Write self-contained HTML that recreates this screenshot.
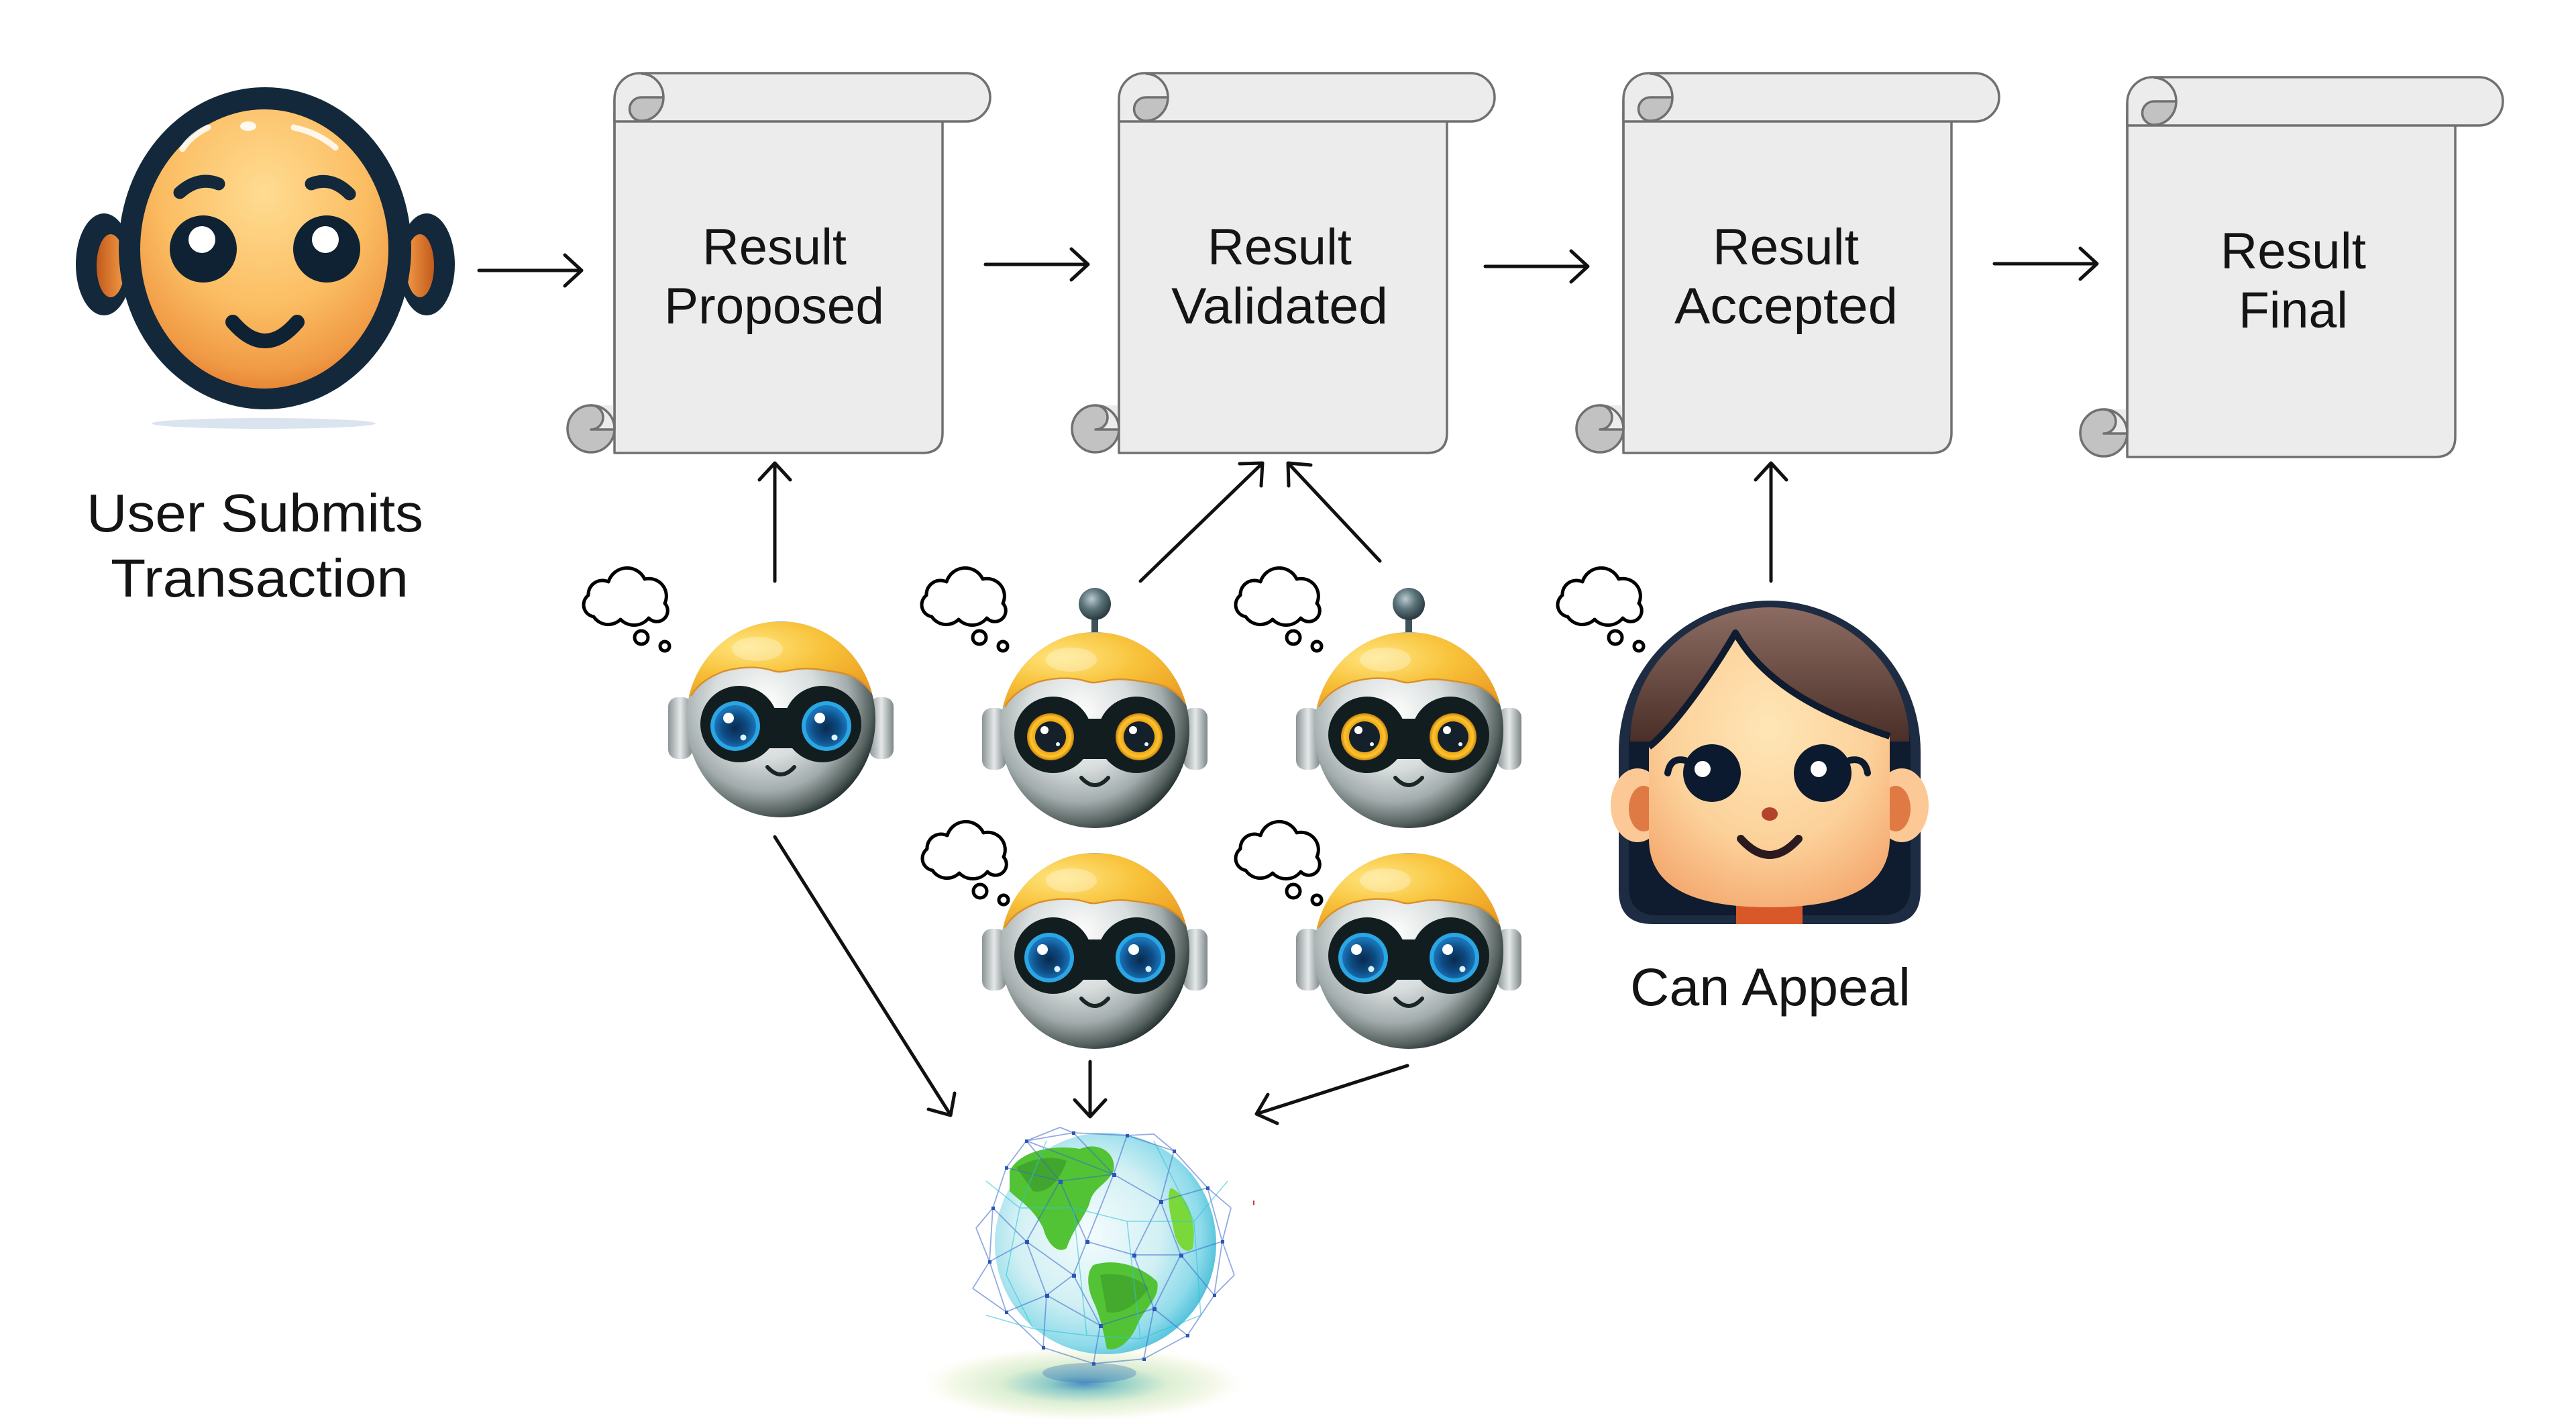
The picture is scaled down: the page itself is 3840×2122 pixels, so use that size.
<!DOCTYPE html>
<html>
<head>
<meta charset="utf-8">
<style>
html,body{margin:0;padding:0;background:#fff;}
svg{display:block;}
text{font-family:"Liberation Sans",Arial,sans-serif;fill:#141414;}
</style>
</head>
<body>
<svg width="3840" height="2122" viewBox="0 0 3840 2122" xmlns="http://www.w3.org/2000/svg">
<defs>
  <radialGradient id="faceG" cx="0.5" cy="0.3" r="0.75">
    <stop offset="0" stop-color="#ffdc92"/>
    <stop offset="0.55" stop-color="#fbbd62"/>
    <stop offset="0.85" stop-color="#f09a45"/>
    <stop offset="1" stop-color="#e0782c"/>
  </radialGradient>
  <linearGradient id="earInG" x1="0" y1="0" x2="1" y2="0">
    <stop offset="0" stop-color="#c25a1c"/>
    <stop offset="1" stop-color="#f29a45"/>
  </linearGradient>
  <radialGradient id="silverG" cx="0.42" cy="0.42" r="0.62">
    <stop offset="0" stop-color="#ffffff"/>
    <stop offset="0.45" stop-color="#d8dddd"/>
    <stop offset="0.72" stop-color="#a3acad"/>
    <stop offset="0.9" stop-color="#56625f"/>
    <stop offset="1" stop-color="#1f2b2c"/>
  </radialGradient>
  <linearGradient id="earG" x1="0" y1="0" x2="1" y2="0">
    <stop offset="0" stop-color="#8c9496"/>
    <stop offset="0.5" stop-color="#e4e8e8"/>
    <stop offset="1" stop-color="#7d8688"/>
  </linearGradient>
  <radialGradient id="yellowG" cx="0.35" cy="0.3" r="0.8">
    <stop offset="0" stop-color="#ffe680"/>
    <stop offset="0.45" stop-color="#f8c23a"/>
    <stop offset="1" stop-color="#e8941c"/>
  </radialGradient>
  <radialGradient id="blueIris" cx="0.5" cy="0.55" r="0.5">
    <stop offset="0" stop-color="#0a2a4e"/>
    <stop offset="0.6" stop-color="#0e4c84"/>
    <stop offset="1" stop-color="#1a74b8"/>
  </radialGradient>
  <radialGradient id="orangeRing" cx="0.5" cy="0.5" r="0.5">
    <stop offset="0.6" stop-color="#e49a10"/>
    <stop offset="0.85" stop-color="#ffc52e"/>
    <stop offset="1" stop-color="#c98210"/>
  </radialGradient>
  <radialGradient id="antG" cx="0.4" cy="0.35" r="0.65">
    <stop offset="0" stop-color="#b9cbd0"/>
    <stop offset="0.5" stop-color="#5b7279"/>
    <stop offset="1" stop-color="#2a3b41"/>
  </radialGradient>
  <linearGradient id="hairG" x1="0" y1="0" x2="0" y2="1">
    <stop offset="0" stop-color="#8c6c62"/>
    <stop offset="1" stop-color="#4a2f28"/>
  </linearGradient>
  <radialGradient id="skinG" cx="0.5" cy="0.35" r="0.7">
    <stop offset="0" stop-color="#ffe6b6"/>
    <stop offset="0.6" stop-color="#fcd19a"/>
    <stop offset="1" stop-color="#f4aa70"/>
  </radialGradient>
  <radialGradient id="globeG" cx="0.42" cy="0.45" r="0.6">
    <stop offset="0" stop-color="#f4fcfd"/>
    <stop offset="0.55" stop-color="#d2f0f4"/>
    <stop offset="0.85" stop-color="#8edbea"/>
    <stop offset="1" stop-color="#4fc0da"/>
  </radialGradient>
  <radialGradient id="glowG" cx="0.5" cy="0.5" r="0.5">
    <stop offset="0" stop-color="#4f8fc4"/>
    <stop offset="0.2" stop-color="#8ccbc8"/>
    <stop offset="0.5" stop-color="#dcefd4"/>
    <stop offset="0.8" stop-color="#f6f9ea"/>
    <stop offset="1" stop-color="#ffffff" stop-opacity="0"/>
  </radialGradient>

  <clipPath id="headClip"><ellipse cx="0" cy="145" rx="141" ry="146"/></clipPath>

  <g id="robotBody">
    <rect x="-168" y="112" width="36" height="92" rx="14" fill="url(#earG)"/>
    <rect x="132" y="112" width="36" height="92" rx="14" fill="url(#earG)"/>
    <ellipse cx="0" cy="145" rx="141" ry="146" fill="url(#silverG)"/>
    <path clip-path="url(#headClip)" d="M-160 0 L160 0 L160 118 L136 106 C125 90 110 78 80 74 C55 70 40 68 25 70 C10 72 0 76 -10 73 C-25 68 -50 64 -84 73 C-110 82 -125 95 -134 110 L-160 122 Z" fill="url(#yellowG)"/>
    <path clip-path="url(#headClip)" d="M136 106 C125 90 110 78 80 74 C55 70 40 68 25 70 C10 72 0 76 -10 73 C-25 68 -50 64 -84 73 C-110 82 -125 95 -134 110" fill="none" stroke="#d9902a" stroke-width="2.5"/>
    <ellipse cx="-35" cy="40" rx="38" ry="18" fill="#fff" opacity="0.3"/>
    <g fill="#121d1f">
      <ellipse cx="-62" cy="152" rx="58" ry="57"/>
      <ellipse cx="62" cy="152" rx="58" ry="57"/>
      <rect x="-30" y="128" width="60" height="60"/>
    </g>
    <path d="M-20 216 Q0 238 20 216" fill="none" stroke="#1a2626" stroke-width="6" stroke-linecap="round"/>
  </g>
  <g id="eyesBlue">
    <circle cx="-68" cy="155" r="37" fill="#2aa6e4"/>
    <circle cx="68" cy="155" r="37" fill="#2aa6e4"/>
    <circle cx="-68" cy="155" r="31" fill="url(#blueIris)"/>
    <circle cx="68" cy="155" r="31" fill="url(#blueIris)"/>
    <circle cx="-78" cy="143" r="8" fill="#fff"/>
    <circle cx="58" cy="143" r="8" fill="#fff"/>
    <circle cx="-56" cy="172" r="4.5" fill="#d9f4ff"/>
    <circle cx="80" cy="172" r="4.5" fill="#d9f4ff"/>
  </g>
  <g id="eyesOrange">
    <circle cx="-66" cy="155" r="35" fill="url(#orangeRing)"/>
    <circle cx="66" cy="155" r="35" fill="url(#orangeRing)"/>
    <circle cx="-66" cy="155" r="23" fill="#14212a"/>
    <circle cx="66" cy="155" r="23" fill="#14212a"/>
    <circle cx="-75" cy="145" r="6" fill="#fff"/>
    <circle cx="57" cy="145" r="6" fill="#fff"/>
    <circle cx="-55" cy="166" r="3" fill="#e8f4ff"/>
    <circle cx="77" cy="166" r="3" fill="#e8f4ff"/>
  </g>
  <g id="antenna">
    <rect x="-5" y="-24" width="10" height="30" fill="#3e5259"/>
    <circle cx="0" cy="-43" r="24" fill="url(#antG)"/>
  </g>

  <g id="cloud" fill="#fff" stroke="#000" stroke-width="5" stroke-linejoin="round">
    <path d="M22 76 A18 18 0 0 1 14 44 A21 21 0 0 1 44 24 A29 29 0 0 1 98 20 A26 26 0 0 1 128 56 A16 16 0 0 1 104 78 A28 28 0 0 1 62 80 A26 26 0 0 1 22 76 Z"/>
    <circle cx="93" cy="107" r="10"/>
    <circle cx="128" cy="120" r="7"/>
  </g>

  <g id="scroll" stroke="#707070" stroke-width="3.5" stroke-linejoin="round">
    <path d="M0 40 L0 566 L459 566 Q489 566 489 536 L489 60 Z" fill="#ececec"/>
    <circle cx="-35" cy="530" r="35" fill="#c2c2c2" stroke="none"/>
    <path d="M-35 495 L0 495 L0 531 L-35 531 A18 18 0 0 0 -35 495 Z" fill="#ececec" stroke="none"/>
    <circle cx="-35" cy="530" r="35" fill="none"/>
    <path d="M-35 495 A18 18 0 0 1 -35 531 L0 531" fill="none"/>
    <line x1="0" y1="60" x2="0" y2="531" fill="none"/>
    <path d="M0 72 L0 38 A38 38 0 0 1 38 0 L524 0 A36 36 0 0 1 524 72 Z" fill="#ececec"/>
    <path d="M40 36 L73 36 A33 35 0 0 1 40 71 A17.5 17.5 0 0 1 40 36 Z" fill="#c2c2c2"/>
    <path d="M40 1 A33 35 0 0 1 73 36" fill="none"/>
  </g>
</defs>

<rect x="0" y="0" width="3840" height="2122" fill="#fff"/>

<!-- USER FACE -->
<ellipse cx="393" cy="631" rx="167" ry="8" fill="#d9e4ee"/>
<ellipse cx="155" cy="394" rx="42" ry="76" fill="#13283b"/>
<ellipse cx="636" cy="394" rx="42" ry="76" fill="#13283b"/>
<ellipse cx="165" cy="396" rx="21" ry="47" fill="url(#earInG)"/>
<ellipse cx="626" cy="396" rx="21" ry="47" fill="url(#earInG)" transform="rotate(180 626 396)"/>
<ellipse cx="395" cy="370" rx="218" ry="240" fill="#13283b"/>
<ellipse cx="394" cy="371" rx="185" ry="208" fill="url(#faceG)"/>
<path d="M272 222 Q285 202 310 190" fill="none" stroke="#fff" stroke-width="9" stroke-linecap="round" opacity="0.85"/>
<path d="M438 190 Q475 198 500 220" fill="none" stroke="#fff" stroke-width="9" stroke-linecap="round" opacity="0.85"/>
<ellipse cx="370" cy="188" rx="12" ry="7" fill="#fff" opacity="0.9"/>
<path d="M268 287 Q296 262 326 274" fill="none" stroke="#13283b" stroke-width="19" stroke-linecap="round"/>
<path d="M464 274 Q494 262 521 289" fill="none" stroke="#13283b" stroke-width="19" stroke-linecap="round"/>
<circle cx="303" cy="371" r="50" fill="#0f2233"/>
<circle cx="487" cy="371" r="50" fill="#0f2233"/>
<circle cx="301" cy="357" r="20" fill="#fff"/>
<circle cx="485" cy="357" r="20" fill="#fff"/>
<path d="M347 480 Q395 536 443 480" fill="none" stroke="#0f2233" stroke-width="22" stroke-linecap="round"/>

<text x="129" y="792" font-size="80" textLength="502" lengthAdjust="spacingAndGlyphs">User Submits</text>
<text x="165" y="889" font-size="80" textLength="444" lengthAdjust="spacingAndGlyphs">Transaction</text>

<!-- SCROLLS -->
<use href="#scroll" transform="translate(916,109)"/>
<use href="#scroll" transform="translate(1668,109)"/>
<use href="#scroll" transform="translate(2420,109)"/>
<use href="#scroll" transform="translate(3171,115)"/>

<text x="1047" y="394" font-size="76" textLength="215" lengthAdjust="spacingAndGlyphs">Result</text>
<text x="990" y="482" font-size="76" textLength="328" lengthAdjust="spacingAndGlyphs">Proposed</text>
<text x="1800" y="394" font-size="76" textLength="215" lengthAdjust="spacingAndGlyphs">Result</text>
<text x="1746" y="482" font-size="76" textLength="323" lengthAdjust="spacingAndGlyphs">Validated</text>
<text x="2553" y="394" font-size="76" textLength="218" lengthAdjust="spacingAndGlyphs">Result</text>
<text x="2496" y="482" font-size="76" textLength="333" lengthAdjust="spacingAndGlyphs">Accepted</text>
<text x="3310" y="400" font-size="76" textLength="217" lengthAdjust="spacingAndGlyphs">Result</text>
<text x="3337" y="488" font-size="76" textLength="163" lengthAdjust="spacingAndGlyphs">Final</text>

<!-- ARROWS -->
<g stroke="#111" stroke-width="5" fill="none" stroke-linecap="round" stroke-linejoin="round">
  <line x1="714" y1="403" x2="865" y2="403"/><polyline points="842,380 867,403 842,426"/>
  <line x1="1469" y1="394" x2="1620" y2="394"/><polyline points="1597,371 1622,394 1597,417"/>
  <line x1="2214" y1="397" x2="2365" y2="397"/><polyline points="2342,374 2367,397 2342,420"/>
  <line x1="2973" y1="393" x2="3124" y2="393"/><polyline points="3101,370 3126,393 3101,416"/>
  <line x1="1155" y1="866" x2="1155" y2="692"/><polyline points="1132,715 1155,690 1178,715"/>
  <line x1="2640" y1="866" x2="2640" y2="692"/><polyline points="2617,715 2640,690 2663,715"/>
  <line x1="1700" y1="866" x2="1880" y2="692"/><polyline points="1848,691 1882,690 1880,724"/>
  <line x1="2057" y1="836" x2="1922" y2="692"/><polyline points="1921,724 1920,690 1954,693"/>
  <line x1="1155" y1="1247" x2="1416" y2="1660"/><polyline points="1423,1629 1417,1662 1384,1653"/>
  <line x1="1625" y1="1582" x2="1625" y2="1662"/><polyline points="1602,1639 1625,1664 1648,1639"/>
  <line x1="2098" y1="1588" x2="1876" y2="1659"/><polyline points="1890,1631 1873,1660 1904,1674"/>
</g>

<!-- CLOUDS -->
<use href="#cloud" transform="translate(863,843)"/>
<use href="#cloud" transform="translate(1367,843)"/>
<use href="#cloud" transform="translate(1835,843)"/>
<use href="#cloud" transform="translate(2315,843)"/>
<use href="#cloud" transform="translate(1368,1221)"/>
<use href="#cloud" transform="translate(1835,1221)"/>

<!-- ROBOTS -->
<g transform="translate(1164,927)"><use href="#robotBody"/><use href="#eyesBlue"/></g>
<g transform="translate(1632,943)"><use href="#antenna"/><use href="#robotBody"/><use href="#eyesOrange"/></g>
<g transform="translate(2100,943)"><use href="#antenna"/><use href="#robotBody"/><use href="#eyesOrange"/></g>
<g transform="translate(1632,1272)"><use href="#robotBody"/><use href="#eyesBlue"/></g>
<g transform="translate(2100,1272)"><use href="#robotBody"/><use href="#eyesBlue"/></g>

<!-- GIRL -->
<path d="M2413 1120 A225 225 0 0 1 2863 1120 L2863 1327 Q2863 1377 2813 1377 L2463 1377 Q2413 1377 2413 1327 Z" fill="#1d2c42"/>
<path d="M2428 1120 A210 210 0 0 1 2848 1120 L2848 1320 Q2848 1364 2805 1364 L2471 1364 Q2428 1364 2428 1320 Z" fill="#0f1b2e"/>
<path d="M2430 1105 A208 200 0 0 1 2846 1105 Z" fill="url(#hairG)"/>
<rect x="2588" y="1330" width="99" height="47" fill="#d8582a"/>
<ellipse cx="2441" cy="1200" rx="40" ry="55" fill="#fcc896"/>
<ellipse cx="2450" cy="1205" rx="22" ry="34" fill="#e07a45"/>
<ellipse cx="2835" cy="1200" rx="40" ry="55" fill="#fcc896"/>
<ellipse cx="2826" cy="1205" rx="22" ry="34" fill="#e07a45"/>
<path d="M2587 943 C2560 990 2500 1080 2458 1113 L2458 1250 C2458 1330 2540 1352 2638 1352 C2736 1352 2817 1330 2817 1250 L2817 1097 C2720 1065 2630 1020 2587 943 Z" fill="url(#skinG)"/>
<path d="M2458 1113 C2500 1080 2560 990 2587 943 C2630 1020 2720 1065 2817 1097" fill="none" stroke="#0f1b2e" stroke-width="10" stroke-linejoin="round"/>
<circle cx="2552" cy="1152" r="43" fill="#0c1a30"/>
<circle cx="2717" cy="1152" r="43" fill="#0c1a30"/>
<circle cx="2538" cy="1146" r="12" fill="#fff"/>
<circle cx="2711" cy="1146" r="12" fill="#fff"/>
<path d="M2512 1133 Q2490 1128 2486 1152" fill="none" stroke="#0c1a30" stroke-width="10" stroke-linecap="round"/>
<path d="M2757 1133 Q2780 1128 2784 1152" fill="none" stroke="#0c1a30" stroke-width="10" stroke-linecap="round"/>
<ellipse cx="2638" cy="1213" rx="12" ry="10" fill="#b4432c"/>
<path d="M2595 1250 Q2638 1298 2681 1250" fill="none" stroke="#2a1a20" stroke-width="12" stroke-linecap="round"/>

<text x="2430" y="1498" font-size="79" textLength="418" lengthAdjust="spacingAndGlyphs">Can Appeal</text>

<!-- GLOBE -->
<ellipse cx="1615" cy="2062" rx="250" ry="58" fill="url(#glowG)"/>
<ellipse cx="1624" cy="2046" rx="70" ry="15" fill="#3a72b8" opacity="0.35"/>
<circle cx="1648" cy="1853" r="165" fill="url(#globeG)"/>
<g fill="#52c334">
  <path d="M1505 1745 C1520 1715 1570 1705 1610 1712 C1640 1700 1665 1720 1660 1745 C1650 1765 1630 1770 1625 1790 C1620 1810 1600 1830 1590 1860 C1575 1870 1560 1850 1555 1830 C1540 1800 1520 1790 1505 1775 Z"/>
  <path d="M1630 1885 C1660 1875 1700 1885 1725 1910 C1730 1935 1705 1950 1695 1975 C1685 2000 1665 2015 1650 2010 C1645 1985 1640 1960 1628 1935 C1620 1915 1620 1895 1630 1885 Z"/>
  <path d="M1745 1770 C1770 1780 1785 1820 1778 1860 C1770 1870 1755 1860 1750 1835 C1745 1810 1738 1785 1745 1770 Z" fill="#7ad83a"/>
</g>
<path d="M1515 1740 C1540 1725 1570 1722 1590 1730 C1580 1760 1560 1780 1540 1775 Z" fill="#3a9a2c" opacity="0.7"/>
<path d="M1640 1900 C1670 1895 1700 1905 1712 1920 C1695 1945 1670 1960 1650 1955 Z" fill="#3a9a2c" opacity="0.6"/>
<g stroke="#3d68c8" stroke-width="1.8" opacity="0.55" fill="none">
  <path d="M1530 1700 L1600 1688 L1680 1692 L1750 1715 L1800 1770 L1822 1850 L1810 1930 L1770 1990 L1705 2025 L1630 2032 L1555 2008 L1500 1955 L1475 1880 L1480 1800 L1500 1740 Z"/>
  <path d="M1530 1700 L1580 1760 M1600 1688 L1660 1750 M1680 1692 L1660 1750 M1750 1715 L1730 1790 M1800 1770 L1730 1790 M1822 1850 L1760 1870 M1810 1930 L1760 1870 M1770 1990 L1720 1950 M1705 2025 L1720 1950 M1630 2032 L1640 1975 M1555 2008 L1560 1930 M1500 1955 L1560 1930 M1475 1880 L1530 1850 M1480 1800 L1530 1850 M1500 1740 L1580 1760"/>
  <path d="M1580 1760 L1660 1750 L1730 1790 L1760 1870 L1720 1950 L1640 1975 L1560 1930 L1530 1850 Z"/>
  <path d="M1580 1760 L1620 1850 L1660 1750 M1620 1850 L1690 1870 L1730 1790 M1690 1870 L1760 1870 M1690 1870 L1720 1950 M1620 1850 L1600 1900 L1640 1975 M1600 1900 L1560 1930 M1600 1900 L1530 1850"/>
  <path d="M1455 1830 L1480 1800 M1455 1830 L1475 1880 M1835 1800 L1800 1770 M1835 1800 L1822 1850 M1840 1900 L1822 1850 M1840 1900 L1810 1930 M1450 1920 L1475 1880 M1450 1920 L1500 1955 M1580 1680 L1530 1700 M1580 1680 L1600 1688 M1720 1690 L1680 1692 M1720 1690 L1750 1715 M1530 1700 L1660 1750 M1580 1760 L1530 1850"/>
</g>
<g stroke="#2ec4d8" stroke-width="1.5" opacity="0.6" fill="none">
  <path d="M1470 1760 L1520 1800 L1600 1800 L1680 1820 L1780 1820 L1830 1760 M1470 1960 L1540 1980 L1620 1990 L1700 1995 L1790 1960 M1520 1800 L1500 1900 L1540 1980 M1780 1820 L1790 1960 M1600 1800 L1620 1990 M1680 1820 L1700 1995 M1560 1700 L1520 1800 M1720 1700 L1780 1820"/>
</g>
<g fill="#2a56b8">
  <rect x="1528" y="1698" width="5" height="5"/><rect x="1598" y="1686" width="5" height="5"/><rect x="1678" y="1690" width="5" height="5"/>
  <rect x="1748" y="1713" width="5" height="5"/><rect x="1798" y="1768" width="5" height="5"/><rect x="1820" y="1848" width="5" height="5"/>
  <rect x="1808" y="1928" width="5" height="5"/><rect x="1768" y="1988" width="5" height="5"/><rect x="1703" y="2023" width="5" height="5"/>
  <rect x="1628" y="2030" width="5" height="5"/><rect x="1553" y="2006" width="5" height="5"/><rect x="1498" y="1953" width="5" height="5"/>
  <rect x="1473" y="1878" width="5" height="5"/><rect x="1478" y="1798" width="5" height="5"/><rect x="1498" y="1738" width="5" height="5"/>
  <rect x="1578" y="1758" width="6" height="6"/><rect x="1658" y="1748" width="6" height="6"/><rect x="1728" y="1788" width="6" height="6"/>
  <rect x="1758" y="1868" width="6" height="6"/><rect x="1718" y="1948" width="6" height="6"/><rect x="1638" y="1973" width="6" height="6"/>
  <rect x="1558" y="1928" width="6" height="6"/><rect x="1528" y="1848" width="6" height="6"/><rect x="1618" y="1848" width="6" height="6"/>
  <rect x="1688" y="1868" width="6" height="6"/><rect x="1598" y="1898" width="6" height="6"/>
</g>
<rect x="1868" y="1789" width="2" height="7" fill="#c43a2a"/>
</svg>
</body>
</html>
